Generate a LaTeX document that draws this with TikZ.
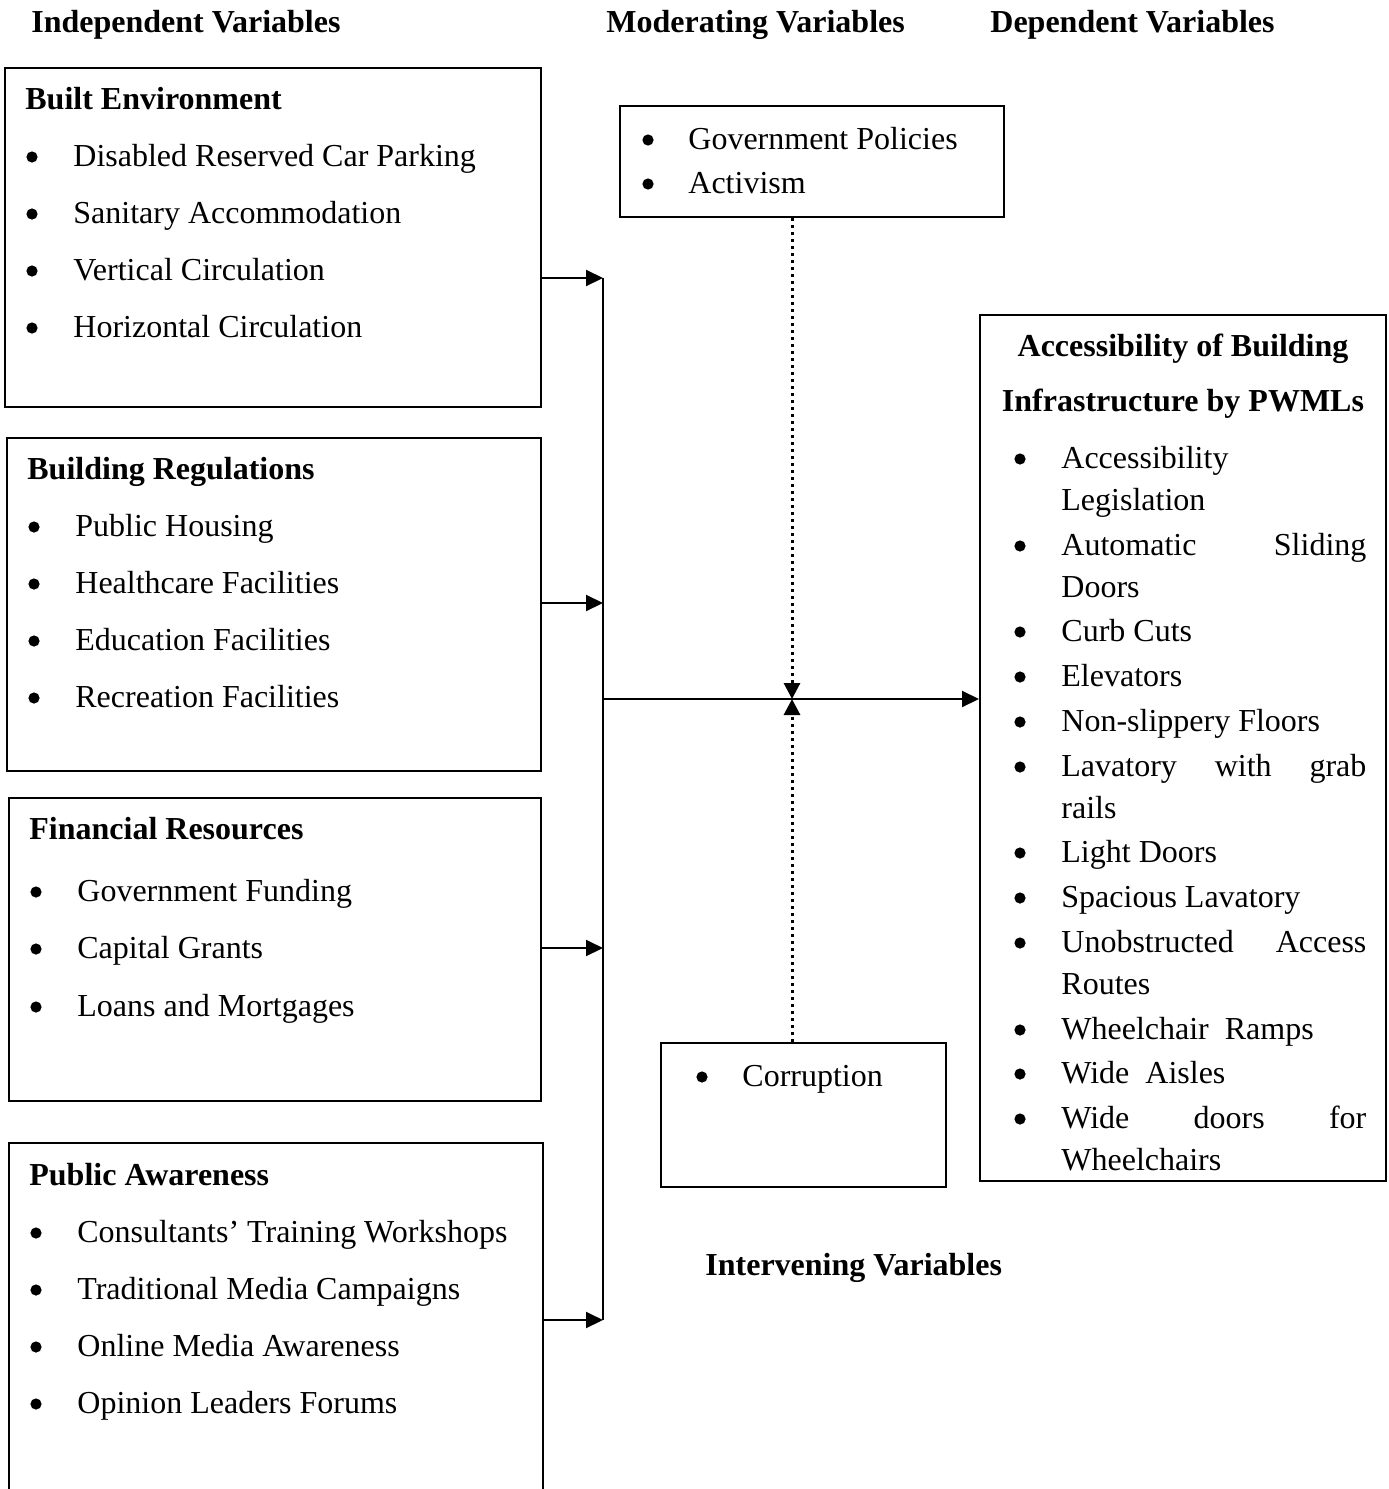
\documentclass[tikz,border=0pt]{standalone}
\usepackage{fontspec}
\setmainfont{Liberation Serif}
\usetikzlibrary{arrows.meta,fit}
\begin{document}
\begin{tikzpicture}[x=0.5pt,y=-0.5pt,
  box/.style={draw,line width=1pt,inner sep=0pt},
  txt/.style={anchor=base west,inner sep=0pt,font=\fontsize{16}{19}\selectfont},
  hd/.style={anchor=base west,inner sep=0pt,font=\fontsize{16}{19}\selectfont\bfseries},
  bul/.style={circle,fill,inner sep=0pt,minimum size=5.6pt},
  arr/.style={line width=1pt,-{Triangle[length=8.5pt,width=8pt]}},
  dotarr/.style={line width=1.5pt,dash pattern=on 1.5pt off 2pt,-{Triangle[length=8pt,width=8pt]}}
]
\clip (0,0) rectangle (1388,1489);
\fill[white] (0,0) rectangle (1388,1489);

% headers
\node[hd] (hIV) at (31,32) {Independent Variables};
\node[hd] (hMV) at (606,32) {Moderating Variables};
\node[hd] (hDV) at (990,32) {Dependent Variables};
\node[hd] (hInt) at (705,1275) {Intervening Variables};

% box corners
\coordinate (be1) at (5,68);   \coordinate (be2) at (541,407);
\coordinate (br1) at (7,438);  \coordinate (br2) at (541,771);
\coordinate (fr1) at (9,798);  \coordinate (fr2) at (541,1101);
\coordinate (pa1) at (9,1143); \coordinate (pa2) at (543,1520);
\coordinate (mo1) at (620,106); \coordinate (mo2) at (1004,217);
\coordinate (co1) at (661,1043); \coordinate (co2) at (946,1187);
\coordinate (de1) at (980,315); \coordinate (de2) at (1386,1181);

\node[box,fit=(be1)(be2)] (be) {};
\node[box,fit=(br1)(br2)] (br) {};
\node[box,fit=(fr1)(fr2)] (fr) {};
\node[box,fit=(pa1)(pa2)] (pa) {};
\node[box,fit=(mo1)(mo2)] (mo) {};
\node[box,fit=(co1)(co2)] (co) {};
\node[box,fit=(de1)(de2)] (de) {};

% Built Environment
\node[hd] (beT) at (25,109) {Built Environment};
\node[bul] (beb1) at (32,157) {}; \node[txt] (bei1) at (73,166) {Disabled Reserved Car Parking};
\node[bul] (beb2) at (32,214) {}; \node[txt] (bei2) at (73,223) {Sanitary Accommodation};
\node[bul] (beb3) at (32,271) {}; \node[txt] (bei3) at (73,280) {Vertical Circulation};
\node[bul] (beb4) at (32,328) {}; \node[txt] (bei4) at (73,337) {Horizontal Circulation};

% Building Regulations
\node[hd] (brT) at (27,479) {Building Regulations};
\node[bul] (brb1) at (34,527) {}; \node[txt] (bri1) at (75,536) {Public Housing};
\node[bul] (brb2) at (34,584) {}; \node[txt] (bri2) at (75,593) {Healthcare Facilities};
\node[bul] (brb3) at (34,641) {}; \node[txt] (bri3) at (75,650) {Education Facilities};
\node[bul] (brb4) at (34,698) {}; \node[txt] (bri4) at (75,707) {Recreation Facilities};

% Financial Resources
\node[hd] (frT) at (29,839) {Financial Resources};
\node[bul] (frb1) at (36,892) {}; \node[txt] (fri1) at (77,901) {Government Funding};
\node[bul] (frb2) at (36,949) {}; \node[txt] (fri2) at (77,958) {Capital Grants};
\node[bul] (frb3) at (36,1007) {}; \node[txt] (fri3) at (77,1016) {Loans and Mortgages};

% Public Awareness
\node[hd] (paT) at (29,1185) {Public Awareness};
\node[bul] (pab1) at (36,1233) {}; \node[txt] (pai1) at (77,1242) {Consultants’ Training Workshops};
\node[bul] (pab2) at (36,1290) {}; \node[txt] (pai2) at (77,1299) {Traditional Media Campaigns};
\node[bul] (pab3) at (36,1347) {}; \node[txt] (pai3) at (77,1356) {Online Media Awareness};
\node[bul] (pab4) at (36,1404) {}; \node[txt] (pai4) at (77,1413) {Opinion Leaders Forums};

% Moderating
\node[bul] (mob1) at (648,140) {}; \node[txt] (moi1) at (688,149) {Government Policies};
\node[bul] (mob2) at (648,184) {}; \node[txt] (moi2) at (688,193) {Activism};

% Corruption
\node[bul] (cob1) at (702,1077) {}; \node[txt] (coi1) at (742,1086) {Corruption};

% Dependent
\node[hd,anchor=base] (deT1) at (1183,356) {Accessibility of Building};
\node[hd,anchor=base] (deT2) at (1183,411) {Infrastructure by PWMLs};
\node[bul] (deb1) at (1020,459) {};  \node[txt] (dei1) at (1061,468) {Accessibility};
                                      \node[txt] (dei2) at (1061,510) {Legislation};
\node[bul] (deb3) at (1020,546) {};  \node[txt] (dei3) at (1061,555) {\hbox to 152.5pt{Automatic\hfill Sliding}};
                                      \node[txt] (dei4) at (1061,597) {Doors};
\node[bul] (deb5) at (1020,632) {};  \node[txt] (dei5) at (1061,641) {Curb Cuts};
\node[bul] (deb6) at (1020,677) {};  \node[txt] (dei6) at (1061,686) {Elevators};
\node[bul] (deb7) at (1020,722) {};  \node[txt] (dei7) at (1061,731) {Non-slippery Floors};
\node[bul] (deb8) at (1020,767) {};  \node[txt] (dei8) at (1061,776) {\hbox to 152.5pt{Lavatory\hfill with\hfill grab}};
                                      \node[txt] (dei9) at (1061,818) {rails};
\node[bul] (deb10) at (1020,853) {}; \node[txt] (dei10) at (1061,862) {Light Doors};
\node[bul] (deb11) at (1020,898) {}; \node[txt] (dei11) at (1061,907) {Spacious Lavatory};
\node[bul] (deb12) at (1020,943) {}; \node[txt] (dei12) at (1061,952) {\hbox to 152.5pt{Unobstructed\hfill Access}};
                                      \node[txt] (dei13) at (1061,994) {Routes};
\node[bul] (deb14) at (1020,1030) {}; \node[txt] (dei14) at (1061,1039) {Wheelchair\ \ Ramps};
\node[bul] (deb15) at (1020,1074) {}; \node[txt] (dei15) at (1061,1083) {Wide\ \ Aisles};
\node[bul] (deb16) at (1020,1119) {}; \node[txt] (dei16) at (1061,1128) {\hbox to 152.5pt{Wide\hfill doors\hfill for}};
                                       \node[txt] (dei17) at (1061,1170) {Wheelchairs};

% connectors
\coordinate (j1) at (603,278);
\coordinate (j2) at (603,603);
\coordinate (j3) at (603,948);
\coordinate (j4) at (603,1320);
\coordinate (jm) at (603,699);
\coordinate (jx) at (792,699);

\draw[arr] (be.east |- j1) -- (j1);
\draw[arr] (br.east |- j2) -- (j2);
\draw[arr] (fr.east |- j3) -- (j3);
\draw[arr] (pa.east |- j4) -- (j4);
\draw[line width=1pt] (j1) -- (j4);
\draw[arr] (jm) -- (de.west |- jm);
\draw[dotarr] (mo.south -| jx) -- (jx);
\draw[dotarr] (co.north -| jx) -- (jx);
\end{tikzpicture}
\end{document}
